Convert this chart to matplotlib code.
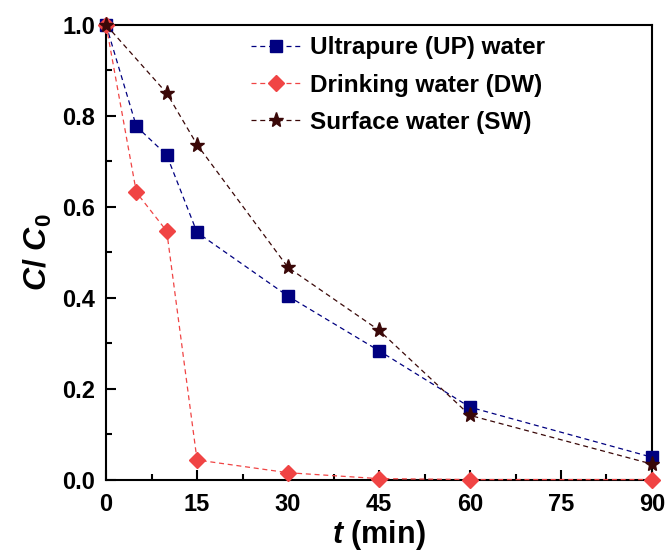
import matplotlib
matplotlib.use("Agg")
import matplotlib.pyplot as plt
from matplotlib.ticker import MultipleLocator

plt.rcParams['font.family'] = ['Liberation Sans', 'DejaVu Sans']
plt.rcParams['font.weight'] = 'bold'
plt.rcParams['mathtext.fontset'] = 'custom'
plt.rcParams['mathtext.rm'] = 'Liberation Sans:bold'
plt.rcParams['mathtext.it'] = 'Liberation Sans:italic:bold'
plt.rcParams['mathtext.bf'] = 'Liberation Sans:bold'

t_up = [0, 5, 10, 15, 30, 45, 60, 90]
c_up = [1.0, 0.777, 0.714, 0.544, 0.404, 0.284, 0.160, 0.050]
t_dw = [0, 5, 10, 15, 30, 45, 60, 90]
c_dw = [1.0, 0.632, 0.547, 0.044, 0.016, 0.003, 0.001, 0.001]
t_sw = [0, 10, 15, 30, 45, 60, 90]
c_sw = [1.0, 0.850, 0.737, 0.467, 0.329, 0.142, 0.035]

labels = ['Ultrapure (UP) water', 'Drinking water (DW)', 'Surface water (SW)']
yticks = [0, 0.2, 0.4, 0.6, 0.8, 1.0]
yticklabels = ['0.0', '0.2', '0.4', '0.6', '0.8', '1.0']

fig = plt.figure(figsize=(6.67, 5.53), dpi=100)
ax = fig.add_axes([0.159, 0.132, 0.8185, 0.823])

ax.plot(t_up, c_up, ls='--', lw=0.9, color='#000080', marker='s', ms=8.5,
        label=labels[0], clip_on=False, zorder=3, dashes=(4, 3))
ax.plot(t_dw, c_dw, ls='--', lw=0.9, color='#f04444', marker='D', ms=8,
        label=labels[1], clip_on=False, zorder=4, dashes=(4, 3))
ax.plot(t_sw, c_sw, ls='--', lw=0.9, color='#3a0808', marker='*', ms=11,
        label=labels[2], clip_on=False, zorder=5, dashes=(4, 3))

ax.set_xlim(0, 90)
ax.set_ylim(0, 1.0)
ax.xaxis.set_major_locator(MultipleLocator(15))
ax.xaxis.set_minor_locator(MultipleLocator(7.5))
ax.yaxis.set_minor_locator(MultipleLocator(0.1))
ax.set_yticks(yticks)
ax.set_yticklabels(yticklabels)
ax.tick_params(which='both', direction='in', top=False, right=False, width=1.5)
ax.tick_params(which='major', length=7, labelsize=17)
ax.tick_params(axis='x', which='major', pad=9)
ax.tick_params(axis='y', which='major', pad=8)
ax.tick_params(which='minor', length=4)
for s in ax.spines.values():
    s.set_linewidth(1.5)

ax.set_xlabel(r'$t$ (min)', fontsize=22, fontweight='bold', labelpad=2)
ax.set_ylabel(r'$C$/ $C_{\mathrm{0}}$', fontsize=23, fontweight='bold', labelpad=6)

leg = ax.legend(loc='upper left', bbox_to_anchor=(0.235, 1.012), frameon=False,
                fontsize=17.5, handlelength=2.0, handletextpad=0.4, labelspacing=0.58,
                borderaxespad=0.3)

fig.savefig('out.png', dpi=100)
